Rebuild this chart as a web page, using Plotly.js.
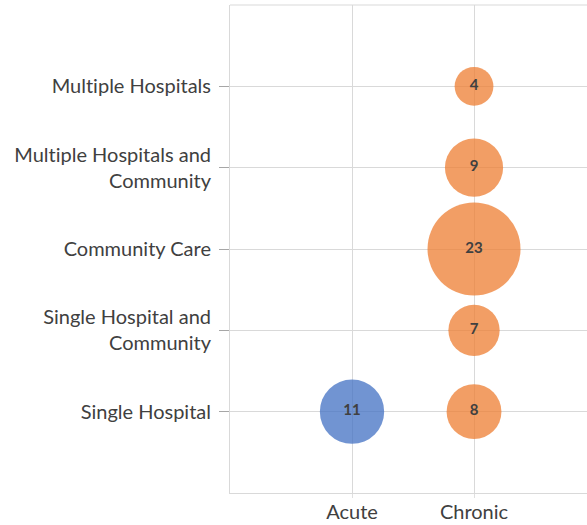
<!DOCTYPE html>
<html><head><meta charset="utf-8">
<script src="https://cdn.plot.ly/plotly-3.0.1.min.js"></script>
<style>html,body{margin:0;padding:0;background:#fff} svg text{font-variant-ligatures:none;font-feature-settings:"liga" 0}</style>
</head><body>
<div id="chart" style="width:587px;height:525px"></div>
<script>
const xCategories = ["Acute", "Chronic"];
const yCategories = ["Single Hospital", "Single Hospital and<br>Community", "Community Care", "Multiple Hospitals and<br>Community", "Multiple Hospitals"];
// Acute series
const acuteX = [1];
const acuteY = [1];
const acuteValues = [11];
// Chronic series
const chronicX = [2, 2, 2, 2, 2];
const chronicY = [1, 2, 3, 4, 5];
const chronicValues = [8, 7, 23, 9, 4];

const sizeref = 2 * 23 / (93 * 93);
const txtFont = {family: "Lato, 'Noto Sans', sans-serif", size: 15, color: "#404040", weight: 700};

const traces = [
  {x: acuteX, y: acuteY, mode: "markers+text", type: "scatter", name: "Acute",
   text: acuteValues.map(String), textposition: "middle center", textfont: txtFont,
   marker: {size: acuteValues, sizemode: "area", sizeref: sizeref, opacity: 1, color: "rgba(68,114,196,0.76)", line: {width: 0}},
   hoverinfo: "skip", cliponaxis: false},
  {x: chronicX, y: chronicY, mode: "markers+text", type: "scatter", name: "Chronic",
   text: chronicValues.map(String), textposition: "middle center", textfont: txtFont,
   marker: {size: chronicValues, sizemode: "area", sizeref: sizeref, opacity: 1, color: "rgba(237,125,49,0.75)", line: {width: 0}},
   hoverinfo: "skip", cliponaxis: false}
];

const layout = {
  width: 587, height: 525,
  margin: {l: 230, r: 0, t: 5, b: 32, pad: 0},
  paper_bgcolor: "#fff", plot_bgcolor: "#fff",
  showlegend: false,
  font: {family: "Lato, 'Noto Sans', sans-serif", size: 20, color: "#404040"},
  xaxis: {
    range: [0, 2.926], tickvals: [1, 2], ticktext: xCategories,
    showgrid: true, gridcolor: "#d9d9d9", gridwidth: 1,
    zeroline: false, showline: true, linecolor: "#d9d9d9", linewidth: 1,
    ticks: "outside", ticklen: 4, tickcolor: "#e0e0e0",
    ticklabelstandoff: -3,
    tickfont: {size: 20, color: "#404040"}, fixedrange: true
  },
  yaxis: {
    range: [0, 6], tickvals: [1, 2, 3, 4, 5], ticktext: yCategories,
    showgrid: true, gridcolor: "#d9d9d9", gridwidth: 1,
    zeroline: false, showline: true, linecolor: "#d9d9d9", linewidth: 1,
    ticks: "outside", ticklen: 10, tickcolor: "#a6a6a6",
    ticklabelstandoff: 4,
    tickfont: {size: 20, color: "#404040"}, fixedrange: true
  },
  shapes: [
    {type: "line", xref: "paper", yref: "paper", x0: 0, x1: 1, y0: 1, y1: 1, line: {color: "#d9d9d9", width: 1}}
  ]
};

Plotly.newPlot("chart", traces, layout, {displayModeBar: false, staticPlot: true});
</script>
</body></html>
